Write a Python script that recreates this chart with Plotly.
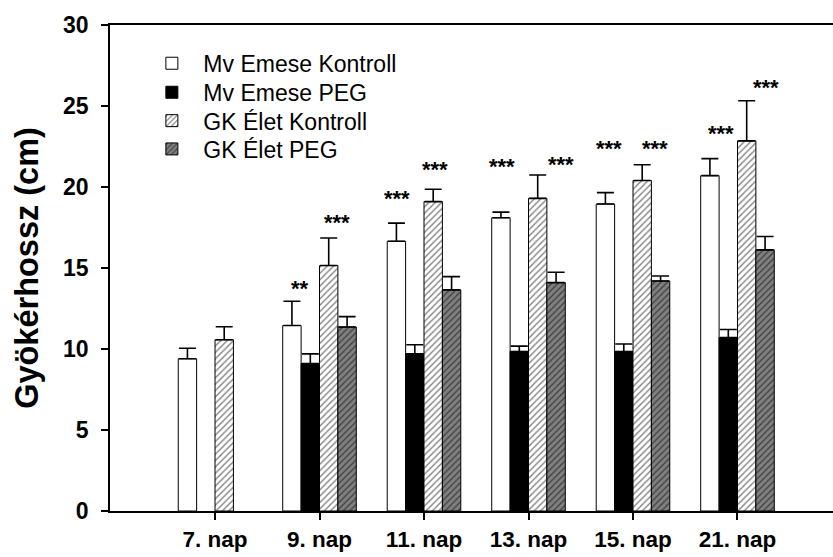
import plotly.graph_objects as go

# Root length per day for two wheat varieties, control vs PEG treatment
days = ["7. nap", "9. nap", "11. nap", "13. nap", "15. nap", "21. nap"]

emese_kontroll = [9.4, 11.45, 16.65, 18.1, 18.95, 20.7]
emese_kontroll_err = [0.65, 1.5, 1.12, 0.35, 0.7, 1.05]

emese_peg = [None, 9.1, 9.7, 9.85, 9.85, 10.7]
emese_peg_err = [0, 0.6, 0.56, 0.33, 0.46, 0.5]

elet_kontroll = [10.57, 15.15, 19.1, 19.3, 20.4, 22.85]
elet_kontroll_err = [0.8, 1.7, 0.76, 1.44, 0.97, 2.47]

elet_peg = [None, 11.36, 13.65, 14.1, 14.2, 16.12]
elet_peg_err = [0, 0.64, 0.82, 0.64, 0.31, 0.82]

# Significance marks: day index, label
sig_day = [1, 1, 2, 2, 3, 3, 4, 4, 5, 5]
sig_text = ["**", "***", "***", "***", "***", "***", "***", "***", "***", "***"]
# label placement (category offset, y value)
sig_dx = [-0.185, 0.169, -0.258, 0.108, -0.249, 0.308, -0.233, 0.206, -0.161, 0.276]
sig_y = [14.18, 18.22, 19.71, 21.54, 21.71, 21.81, 22.8, 22.8, 23.73, 26.55]

FONT = "Liberation Sans, Arial, sans-serif"
n = len(days)
zeros = [0] * n


def err(vals):
    return dict(type="data", array=vals, arrayminus=zeros, symmetric=False,
                color="black", thickness=1.6, width=8.5)


def hatch(bg):
    return dict(shape="/", fgcolor="black", bgcolor=bg,
                size=4.5, solidity=0.3, fillmode="overlay")


fig = go.Figure()
fig.add_trace(go.Bar(
    name="Mv Emese Kontroll", x=days, y=emese_kontroll, error_y=err(emese_kontroll_err),
    marker=dict(color="white", line=dict(color="black", width=1)),
    legend="legend", showlegend=True,
))
fig.add_trace(go.Bar(
    name="Mv Emese PEG", x=days, y=emese_peg, error_y=err(emese_peg_err),
    marker=dict(color="black", line=dict(color="black", width=1)),
    legend="legend2", showlegend=True,
))
fig.add_trace(go.Bar(
    name="GK Élet Kontroll", x=days, y=elet_kontroll, error_y=err(elet_kontroll_err),
    marker=dict(color="white", line=dict(color="black", width=1), pattern=hatch("white")),
    legend="legend3", showlegend=True,
))
fig.add_trace(go.Bar(
    name="GK Élet PEG", x=days, y=elet_peg, error_y=err(elet_peg_err),
    marker=dict(color="#808080", line=dict(color="black", width=1), pattern=hatch("#808080")),
    legend="legend4", showlegend=True,
))

for d, t, dx, yy in zip(sig_day, sig_text, sig_dx, sig_y):
    fig.add_annotation(x=d + dx, y=yy, text=t, showarrow=False,
                       xanchor="center", yanchor="middle", yshift=-7,
                       font=dict(family=FONT, size=22, color="black", weight="bold"))

# one legend box per entry so the rows sit at a fixed spacing
legend_rows = [0.9212, 0.8615, 0.8031, 0.7449]
legend_style = dict(x=0.042, xanchor="left", yanchor="middle",
                    bgcolor="rgba(0,0,0,0)", itemwidth=53,
                    font=dict(family=FONT, size=23, color="black"))

fig.update_layout(
    width=833, height=557,
    margin=dict(l=110, r=0, t=25, b=46),
    paper_bgcolor="white", plot_bgcolor="white",
    barmode="group", bargap=0.296, bargroupgap=0,
    font=dict(family=FONT, color="black"),
    showlegend=True,
    legend=dict(y=legend_rows[0], **legend_style),
    legend2=dict(y=legend_rows[1], **legend_style),
    legend3=dict(y=legend_rows[2], **legend_style),
    legend4=dict(y=legend_rows[3], **legend_style),
    xaxis=dict(
        type="category", range=[-1.005, 5.914],
        showline=True, linecolor="black", linewidth=1.5, mirror=True,
        ticks="outside", ticklen=7, tickwidth=1.5, tickcolor="black",
        tickfont=dict(family=FONT, size=22.5, color="black", weight="bold"),
        showgrid=False, zeroline=False,
    ),
    yaxis=dict(
        range=[0, 30], dtick=5,
        showline=True, linecolor="black", linewidth=1.5,
        ticks="outside", ticklen=7, tickwidth=1.5, tickcolor="black",
        ticklabelstandoff=8,
        tickfont=dict(family=FONT, size=23, color="black", weight="bold"),
        showgrid=False, zeroline=False,
        title=dict(text="Gyökérhossz (cm)", standoff=15,
                   font=dict(family=FONT, size=32.5, color="black", weight="bold")),
    ),
)

fig.write_html("out.html")
